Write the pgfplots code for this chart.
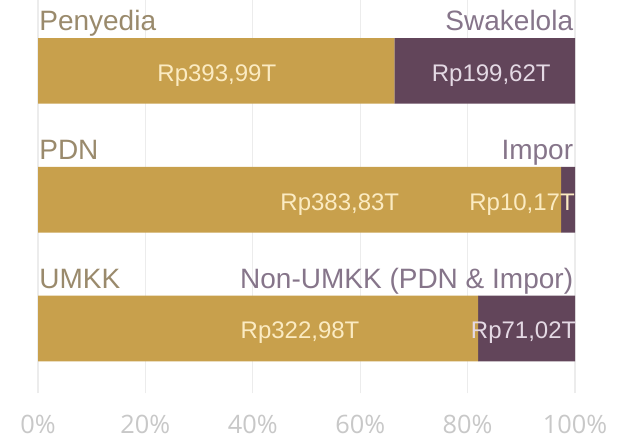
\documentclass[border=0pt]{standalone}
\usepackage{fontspec}
\setmainfont{Liberation Sans}
\newfontfamily\tickfont{Open Sans}
\usepackage{pgfplots}
\pgfplotsset{compat=1.18}
\definecolor{gold}{HTML}{C8A04C}
\definecolor{plum}{HTML}{62455A}
\definecolor{goldtxt}{HTML}{9A8A6C}
\definecolor{plumtxt}{HTML}{86758A}
\definecolor{creamtxt}{HTML}{FBEBC2}
\definecolor{lilactxt}{HTML}{E4D9E4}
\definecolor{tickgray}{HTML}{C8C8C8}
\definecolor{gridgray}{HTML}{ECECEC}
\newcommand{\catfont}{\fontsize{21}{25}\selectfont}
\newcommand{\valfont}{\fontsize{18}{21}\selectfont}
\newcommand{\tfont}{\tickfont\fontsize{19}{22}\selectfont}
\tikzset{catlab/.style={font=\catfont, inner sep=0pt}, vallab/.style={font=\valfont, inner sep=0pt}}
\begin{document}
\begin{tikzpicture}
\fill[white] (0pt,0pt) rectangle (477pt,330pt);
\useasboundingbox (0pt,0pt) rectangle (477pt,330pt);
\begin{axis}[
  at={(28.5pt,35.25pt)}, anchor=south west,
  scale only axis, width=402.75pt, height=294.75pt,
  xbar stacked, bar width=0.51,
  xmin=0, xmax=100, ymin=0, ymax=3.05,
  axis line style={draw=none},
  major tick length=0pt,
  ytick=\empty,
  xtick={0,20,40,60,80,100},
  xticklabels={0\%,20\%,40\%,60\%,80\%,100\%},
  xticklabel style={font=\tfont, text=tickgray, anchor=base, yshift=-30pt},
  xmajorgrids, grid style={gridgray, line width=0.8pt},
  clip=false,
  after end axis/.append code={
    \node[catlab, anchor=base west, text=goldtxt] at (axis cs:0.2,2.81) {Penyedia};
    \node[catlab, anchor=base east, text=plumtxt] at (axis cs:99.7,2.81) {Swakelola};
    \node[catlab, anchor=base west, text=goldtxt] at (axis cs:0.2,1.81) {PDN};
    \node[catlab, anchor=base east, text=plumtxt] at (axis cs:99.7,1.81) {Impor};
    \node[catlab, anchor=base west, text=goldtxt] at (axis cs:0.2,0.81) {UMKK};
    \node[catlab, anchor=base east, text=plumtxt] at (axis cs:99.7,0.81) {Non-UMKK (PDN \& Impor)};
    \node[vallab, anchor=base, text=creamtxt] at (axis cs:33.3,2.42) {Rp393,99T};
    \node[vallab, anchor=base, text=lilactxt] at (axis cs:84.4,2.42) {Rp199,62T};
    \node[vallab, anchor=base, text=creamtxt] at (axis cs:56.2,1.42) {Rp383,83T};
    \node[vallab, anchor=base east, text=creamtxt] at (axis cs:100,1.42) {Rp10,17T};
    \node[vallab, anchor=base, text=creamtxt] at (axis cs:48.8,0.42) {Rp322,98T};
    \node[vallab, anchor=base east, text=lilactxt] at (axis cs:100.3,0.42) {Rp71,02T};
  },
]
\addplot[fill=gold, draw=none] coordinates {(66.37,2.5) (97.42,1.5) (81.98,0.5)};
\addplot[fill=plum, draw=none] coordinates {(33.63,2.5) (2.58,1.5) (18.02,0.5)};
\end{axis}
\end{tikzpicture}
\end{document}
